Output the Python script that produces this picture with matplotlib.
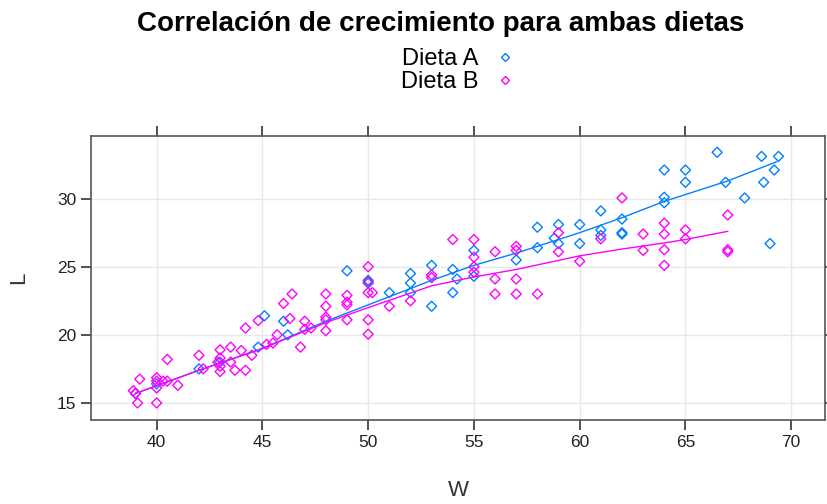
import matplotlib
matplotlib.use("Agg")
import matplotlib.pyplot as plt
from matplotlib.lines import Line2D

# Dieta A (blue) - W vs L
w_a = [39, 40, 42, 43, 44.8, 45.1, 46, 46.2, 49, 50, 50, 51, 52, 52, 52, 53, 53,
       54, 54.2, 54, 55, 55, 57, 58, 58, 58.8, 59, 59, 60, 60, 61, 61, 61, 62, 62, 62,
       64, 64, 64, 65, 65, 66.5, 66.9, 67.8, 68.6, 68.7, 69.2, 69.4, 69]
l_a = [15.7, 16.4, 17.5, 18.0, 19.1, 21.4, 21.0, 20.0, 24.7, 24.0, 23.8, 23.1, 24.5,
       23.8, 23.1, 25.1, 22.1, 24.8, 24.1, 23.1, 26.2, 24.3, 25.5, 27.9, 26.4, 27.1,
       28.1, 26.7, 28.1, 26.7, 29.1, 27.7, 27.3, 28.5, 27.5, 27.4, 32.1, 30.1, 29.7,
       32.1, 31.2, 33.4, 31.2, 30.05, 33.1, 31.2, 32.1, 33.1, 26.7]

# Dieta B (magenta)
w_b = [39.1, 38.9, 39, 39.2, 40, 40, 40, 40, 40.3, 40.5, 40.5, 41, 42, 42.2, 43, 43,
       42.9, 43, 43, 43.5, 43.5, 43.7, 44, 44.5, 44.2, 44.2, 44.8, 45.2, 45.5, 45.7,
       46, 46.3, 46.4, 46.8, 47, 47, 47.3, 48, 48, 48, 48, 48, 49, 49, 49, 49, 50, 50,
       50, 50.2, 50, 50, 51, 52, 53, 53, 54, 55, 55, 55, 55, 56, 56, 56, 57, 57, 57,
       57, 58, 59, 59, 60, 61, 62, 63, 63, 64, 64, 64, 64, 65, 65, 67, 67, 67]
l_b = [15.0, 15.9, 15.7, 16.75, 15.0, 16.85, 16.6, 16.1, 16.6, 16.6, 18.2, 16.3,
       18.5, 17.5, 18.9, 18.3, 18.0, 17.7, 17.3, 19.1, 18.0, 17.4, 18.85, 18.5, 17.4,
       20.5, 21.05, 19.3, 19.4, 20.0, 22.3, 21.2, 23.0, 19.1, 21.0, 20.4, 20.5, 23.0,
       22.1, 21.3, 21.1, 20.3, 22.9, 22.4, 22.2, 21.1, 25.0, 23.9, 23.1, 23.1, 21.1,
       20.05, 22.1, 22.5, 24.4, 24.2, 27.0, 27.0, 25.7, 25.0, 24.6, 26.1, 24.1, 23.0,
       26.5, 26.2, 24.1, 23.0, 23.0, 27.5, 26.1, 25.4, 27.05, 30.05, 27.4, 26.2, 28.2,
       27.4, 26.25, 25.1, 27.7, 27.05, 28.8, 26.25, 26.1]

# smoother curves
curve_a_w = [39, 42, 45, 48, 50, 53, 55, 57, 59, 60, 62, 64, 65, 67, 69.3]
curve_a_l = [15.7, 17.4, 19.0, 21.0, 22.2, 24.0, 25.1, 26.0, 27.0, 27.5, 28.6, 29.8, 30.3, 31.3, 32.7]
curve_b_w = [39, 42, 45, 48, 50, 53, 55, 57, 60, 62, 64, 65, 67]
curve_b_l = [15.7, 17.4, 19.0, 20.9, 22.0, 23.6, 24.25, 24.8, 25.8, 26.3, 26.75, 27.0, 27.6]

col_a = "#0080ff"
col_b = "#ff00ff"

plt.rcParams['font.family'] = ['Liberation Sans', 'DejaVu Sans']

fig = plt.figure(figsize=(8.28, 5.04), dpi=100)
ax = fig.add_axes([0.110, 0.1667, 0.8864, 0.5635])

ax.scatter(w_a, l_a, marker='D', s=26, facecolors='none', edgecolors=col_a, linewidths=1.0, zorder=3)
ax.scatter(w_b, l_b, marker='D', s=26, facecolors='none', edgecolors=col_b, linewidths=1.0, zorder=3)
ax.plot(curve_a_w, curve_a_l, color=col_a, linewidth=1.0, zorder=4)
ax.plot(curve_b_w, curve_b_l, color=col_b, linewidth=1.0, zorder=4)

ax.set_xlim(36.9, 71.6)
ax.set_ylim(13.75, 34.6)
ax.set_xticks([40, 45, 50, 55, 60, 65, 70])
ax.set_yticks([15, 20, 25, 30])
ax.grid(True, color='#e8e8e8', linewidth=1.0, zorder=0)
ax.set_axisbelow(True)

for s in ax.spines.values():
    s.set_color('#555555')
    s.set_linewidth(1.2)
ax.tick_params(axis='both', which='both', direction='out', length=7, width=1.2,
               color='#333333', labelsize=12.5, labelcolor='#222222',
               top=True, right=True, labeltop=False, labelright=False)

ax.set_xlabel('W', fontsize=16, color='#333333', labelpad=22)
ax.set_ylabel('L', fontsize=16, color='#333333', labelpad=20)

fig.text(0.532, 0.952, 'Correlación de crecimiento para ambas dietas', ha='center', va='center',
         fontsize=20, fontweight='bold')

# legend
handles = [Line2D([], [], marker='D', linestyle='none', markerfacecolor='none',
                  markeredgecolor=col_a, markersize=4.5, markeredgewidth=1.0),
           Line2D([], [], marker='D', linestyle='none', markerfacecolor='none',
                  markeredgecolor=col_b, markersize=4.5, markeredgewidth=1.0)]
leg = fig.legend(handles, ['Dieta A', 'Dieta B'], loc='center', bbox_to_anchor=(0.558, 0.86),
                 frameon=False, fontsize=17, markerfirst=False, handlelength=1.5,
                 handletextpad=0.4, labelspacing=0.02, borderpad=0)

fig.savefig('out.png', dpi=100)
